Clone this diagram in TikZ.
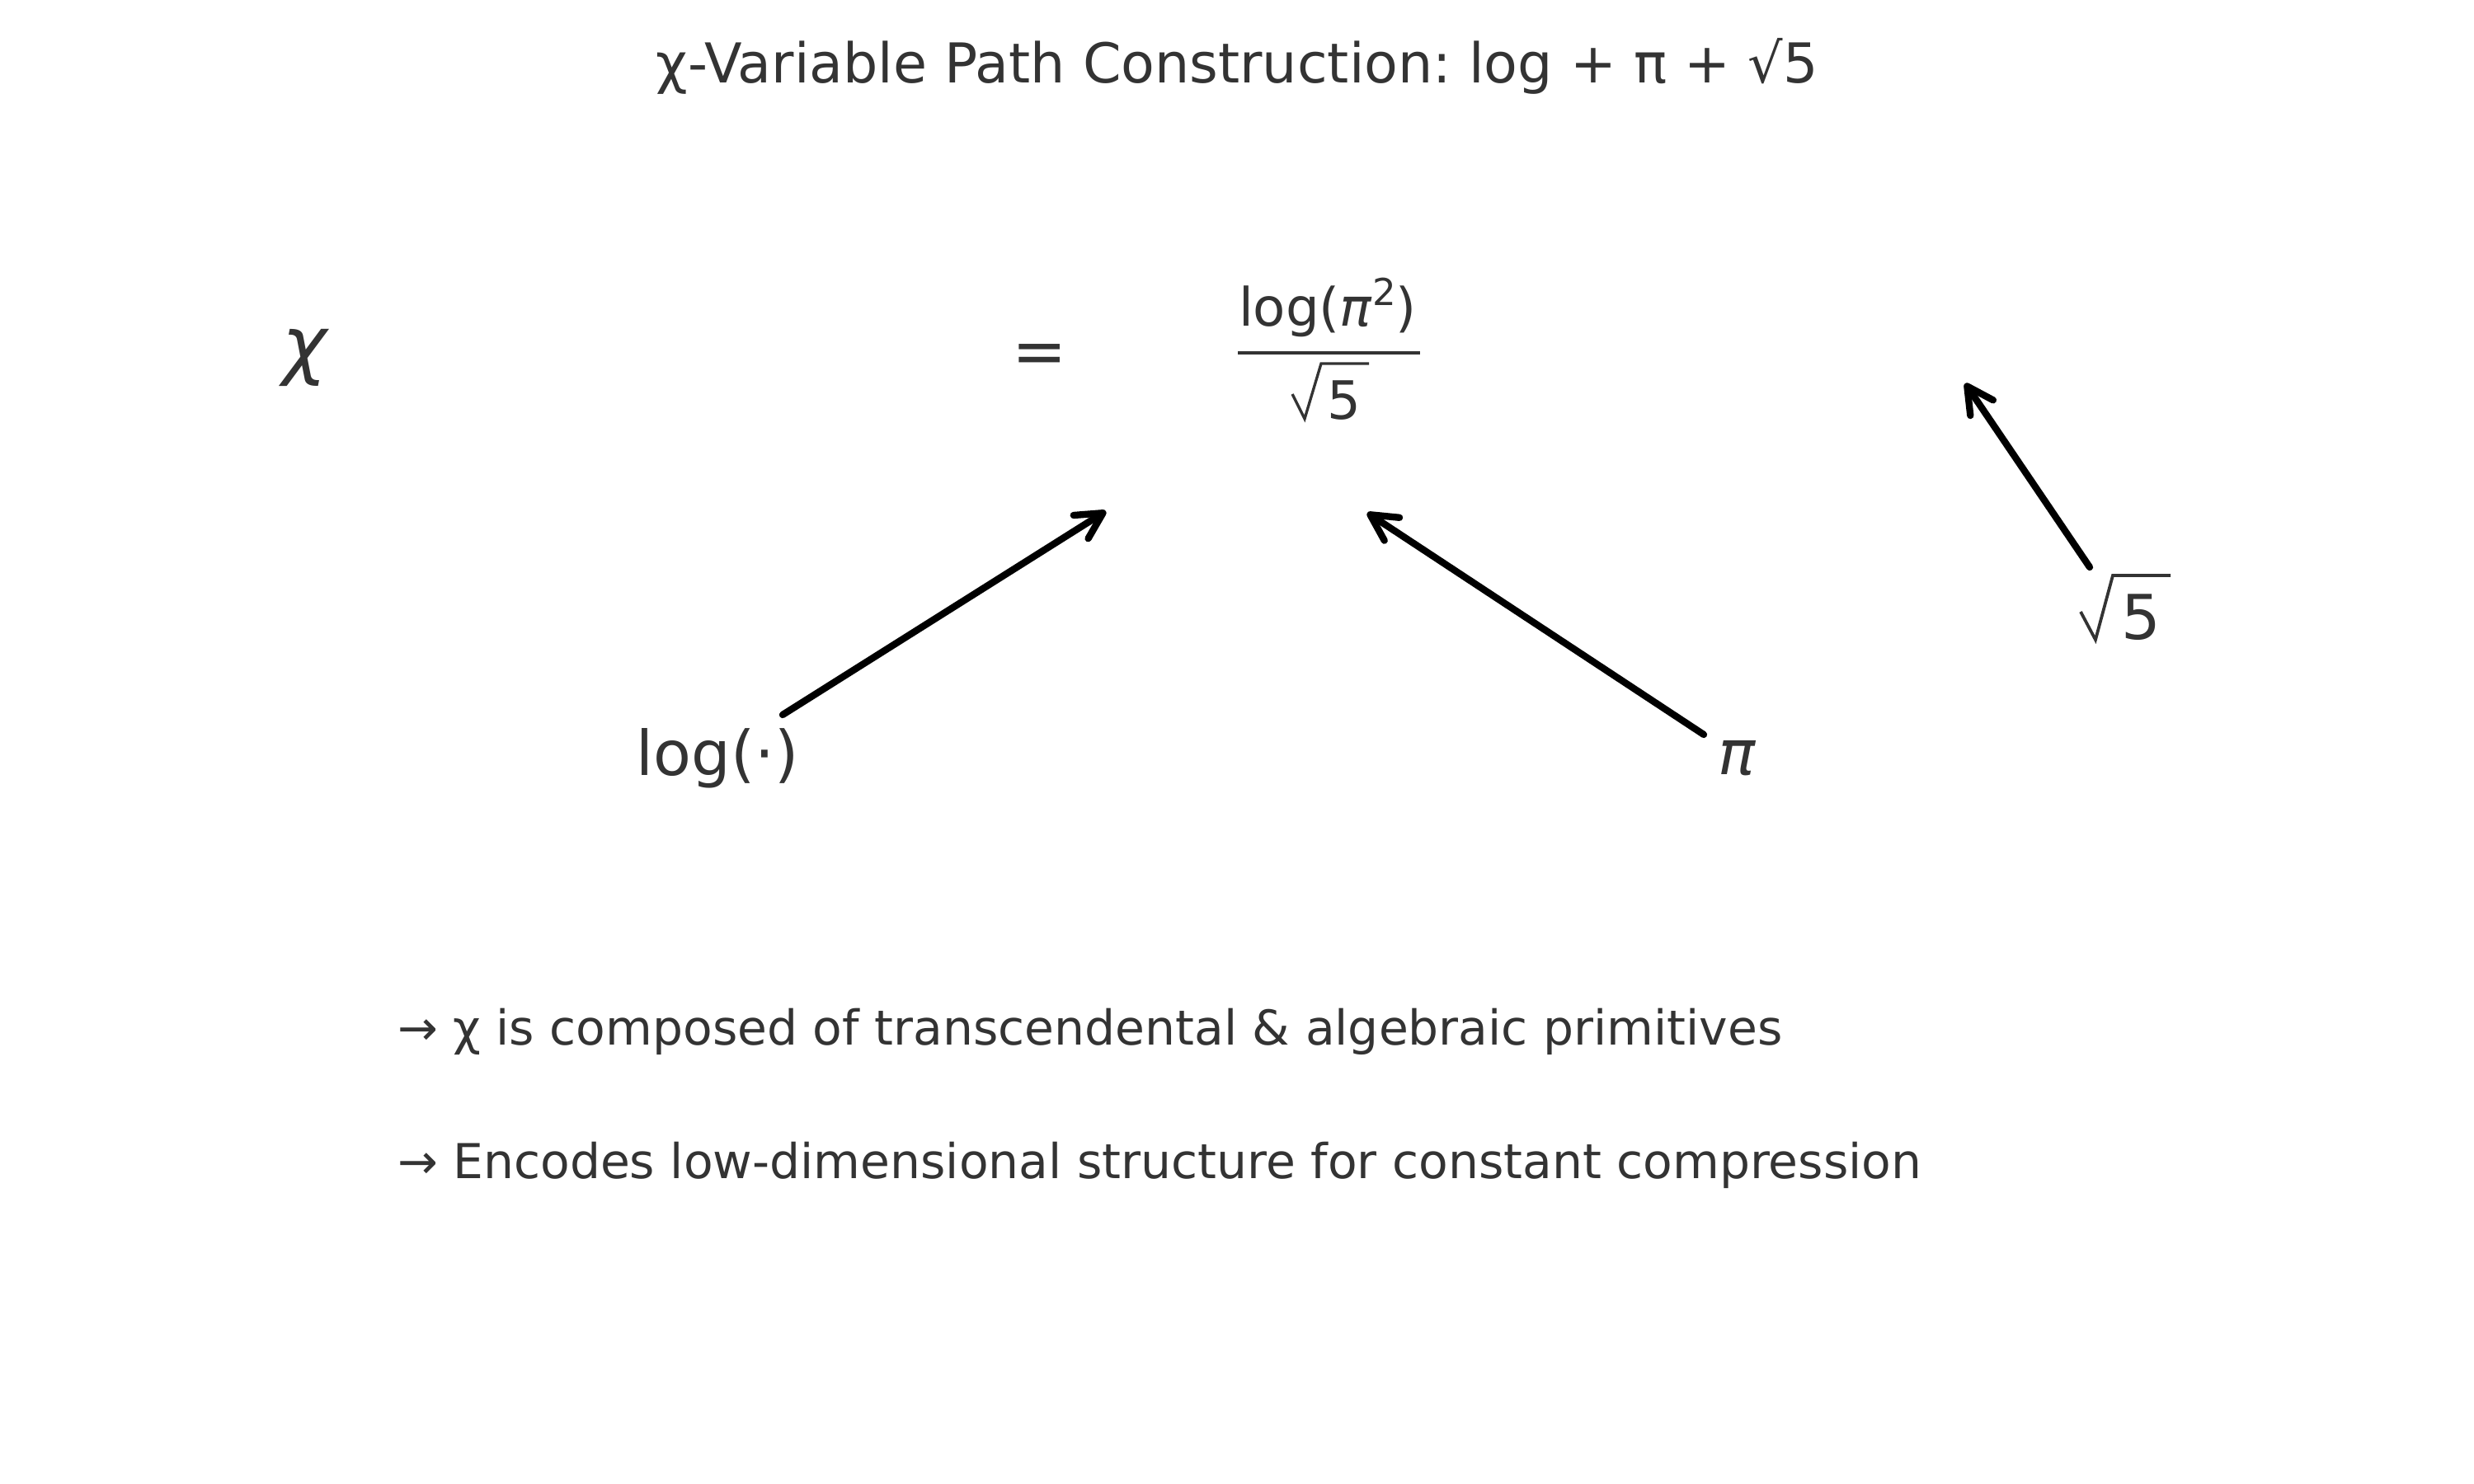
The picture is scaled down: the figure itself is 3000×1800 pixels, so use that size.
\documentclass[tikz,border=0pt]{standalone}
\usepackage{fontspec}
\setmainfont{DejaVu Sans}
\usetikzlibrary{arrows.meta}
\definecolor{txt}{HTML}{333333}
\frenchspacing
\tikzset{
  lbl/.style={inner sep=0pt, outer sep=0pt, text=txt, anchor=base},
  conn/.style={draw=black, line width=2bp, line cap=round, line join=round,
    -{Straight Barb[length=7.6bp,width=8bp,round]}},
  radical/.style={draw=txt, line width=0.8bp, line join=miter}
}
\begin{document}
\begin{tikzpicture}[x=0.0846667mm,y=-0.0846667mm]
\useasboundingbox[fill=white] (0,0) rectangle (3000,1800);
% title
\node[lbl] (title) at (1500,100) {\fontsize{16bp}{19bp}\selectfont\frenchspacing χ-Variable Path Construction: log + π + √5};
% chi and equals
\node[lbl] (chi) at (370,449) {\fontsize{22bp}{26bp}\selectfont\itshape χ};
\node[lbl] (eq) at (1261,453) {\fontsize{19bp}{23bp}\selectfont =};
% fraction
\node[lbl] (num) at (1610,395) {\fontsize{15.4bp}{18bp}\selectfont log(\textit{π}\raisebox{6bp}{\fontsize{10.8bp}{12bp}\selectfont 2})};
\draw[draw=txt, line width=1bp] (1501,428) coordinate (barL) -- (1722,428) coordinate (barR);
\draw[radical] (1567,478) -- (1582,508) -- (1602,441) -- (1660,441);
\node[lbl] (den) at (1630,508) {\fontsize{15.4bp}{18bp}\selectfont 5};
% primitives
\node[lbl] (log) at (870,940) {\fontsize{18bp}{22bp}\selectfont log(·)};
\node[lbl] (pi) at (2106,939) {\fontsize{18bp}{22bp}\selectfont\itshape π};
\draw[radical, line width=0.9bp] (2523,742) -- (2541,776) -- (2562,698) -- (2632,698);
\node[lbl] (five) at (2596,775) {\fontsize{18bp}{22bp}\selectfont 5};
% arrows
\coordinate (t1) at (949,867);
\coordinate (h1) at (1341,620);
\coordinate (t2) at (2066,891);
\coordinate (h2) at (1658,622);
\coordinate (t3) at (2534,688);
\coordinate (h3) at (2383,465);
\draw[conn] (t1) -- (h1);
\draw[conn] (t2) -- (h2);
\draw[conn] (t3) -- (h3);
% notes
\node[lbl, anchor=base west] (note1) at (482,1267) {\fontsize{14bp}{17bp}\selectfont → χ is composed of transcendental \& algebraic primitives};
\node[lbl, anchor=base west] (note2) at (482,1429) {\fontsize{14bp}{17bp}\selectfont → Encodes low-dimensional structure for constant compression};
\end{tikzpicture}
\end{document}
